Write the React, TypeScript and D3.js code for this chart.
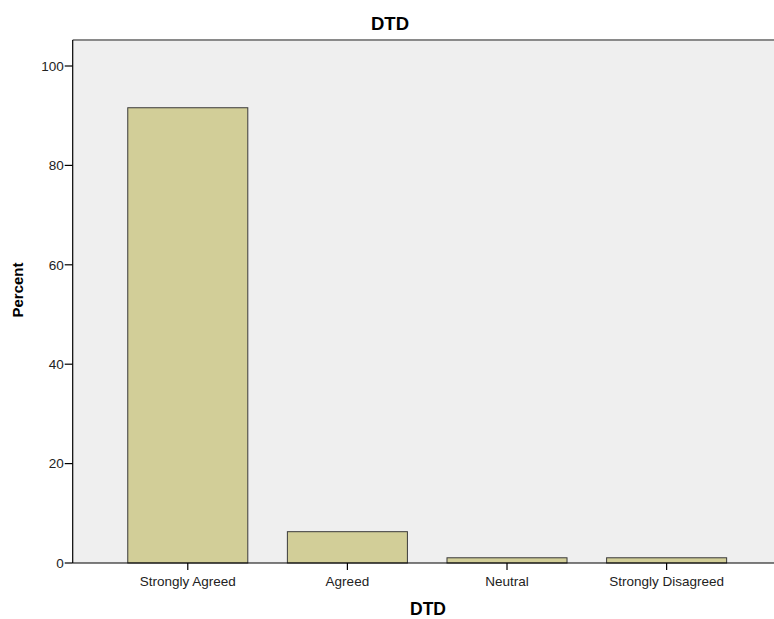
import React from "react";
import * as d3 from "d3";

const categories = ["Strongly Agreed", "Agreed", "Neutral", "Strongly Disagreed"];
const percents = [91.6, 6.3, 1.05, 1.05];
const yTicks = [0, 20, 40, 60, 80, 100];
const title = "DTD";
const xLabel = "DTD";
const yLabel = "Percent";

export default function App() {
  const W = 774, H = 619;
  const left = 72.7, top = 40, bottom = 563;
  const y = d3.scaleLinear().domain([0, 100]).range([bottom, 66]);
  const x = d3
    .scaleBand<string>()
    .domain(categories)
    .range([left, 781.7])
    .paddingInner(0.248)
    .paddingOuter(0.345);
  const font = "Arial, 'Liberation Sans', sans-serif";
  return (
    <>
      <style>{`html,body{margin:0;padding:0;overflow:hidden;}`}</style>
      <svg width={W} height={H} style={{ display: "block", background: "#fff" }}>
        <rect x={left} y={top} width={W - left + 10} height={bottom - top} fill="#efefef" />
        <line x1={left} x2={W} y1={top} y2={top} stroke="#8a8a8a" strokeWidth={2} />
        {categories.map((c, i) => (
          <rect
            key={c}
            x={x(c)!}
            y={y(percents[i])}
            width={x.bandwidth()}
            height={bottom - y(percents[i])}
            fill="#d2ce98"
            stroke="#3a3a3a"
            strokeWidth={1}
          />
        ))}
        <line x1={left} x2={left} y1={top} y2={bottom} stroke="#000" strokeWidth={1.2} />
        <line x1={left} x2={W} y1={bottom} y2={bottom} stroke="#000" strokeWidth={1.2} />
        {yTicks.map((t) => (
          <g key={t}>
            <line x1={left - 8} x2={left} y1={y(t)} y2={y(t)} stroke="#000" strokeWidth={1.2} />
            <text x={left - 9} y={y(t)} dy="0.36em" textAnchor="end" fontFamily={font} fontSize={13.5} fill="#222">
              {t}
            </text>
          </g>
        ))}
        {categories.map((c) => {
          const cx = x(c)! + x.bandwidth() / 2;
          return (
            <g key={c}>
              <line x1={cx} x2={cx} y1={bottom} y2={bottom + 7} stroke="#000" strokeWidth={1.2} />
              <text x={cx} y={586} textAnchor="middle" fontFamily={font} fontSize={13.5} fill="#222">
                {c}
              </text>
            </g>
          );
        })}
        <text x={390} y={30} textAnchor="middle" fontFamily={font} fontSize={18.5} fontWeight="bold" fill="#000">
          {title}
        </text>
        <text x={428} y={615} textAnchor="middle" fontFamily={font} fontSize={17.5} fontWeight="bold" fill="#000">
          {xLabel}
        </text>
        <text
          transform={`translate(23,${290}) rotate(-90)`}
          textAnchor="middle"
          fontFamily={font}
          fontSize={15}
          fontWeight="bold"
          fill="#000"
        >
          {yLabel}
        </text>
      </svg>
    </>
  );
}
